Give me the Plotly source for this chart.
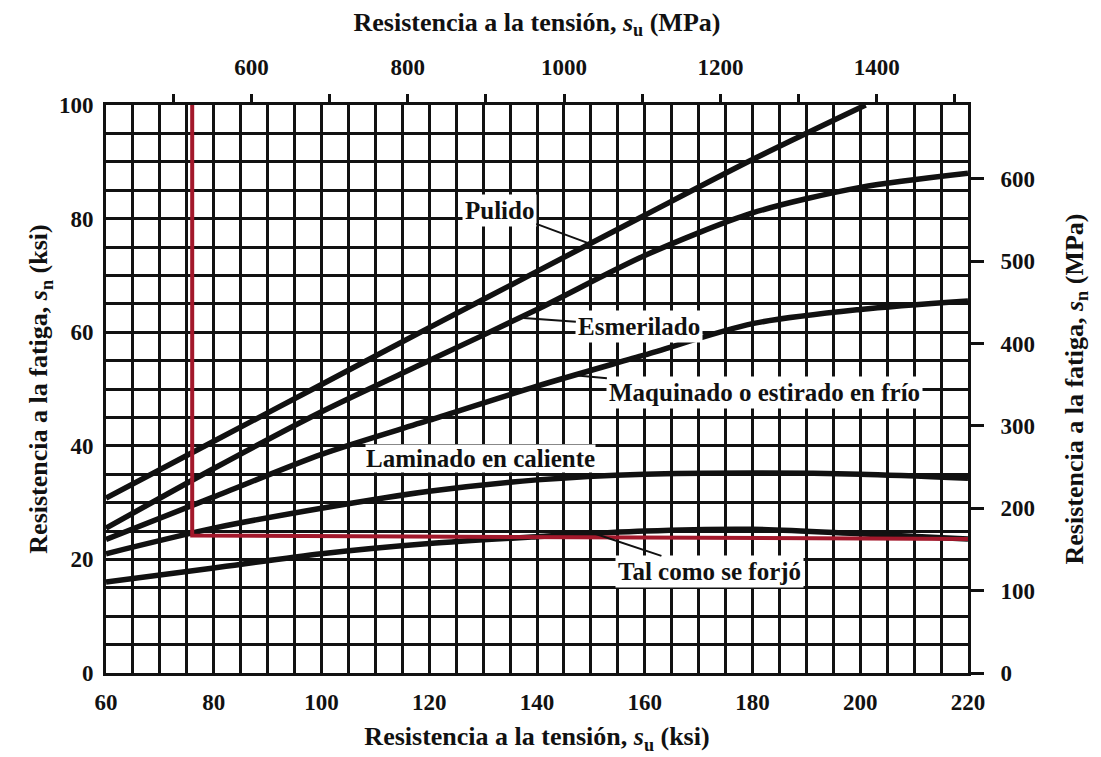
import plotly.graph_objects as go

# ---------------- data (ksi) ----------------
KSI_TO_MPA = 6.895
su_ksi = [60, 80, 100, 120, 140, 160, 180, 200, 220]

pulido_su = [60, 80, 100, 120, 140, 160, 180, 201]
pulido_sn = [30.8, 40.8, 50.8, 60.8, 70.7, 80.6, 90.4, 100]
esmerilado_sn = [25.5, 36, 46, 55, 64, 73.5, 81, 85.5, 88]
maquinado_sn = [23.5, 31, 38.5, 44.5, 50.5, 56, 61.5, 64, 65.5]
laminado_sn = [21, 25.5, 29, 32, 34, 35, 35.2, 35, 34.3]
forjado_sn = [16, 18.5, 21, 22.8, 24, 25, 25.3, 24.5, 23.6]

red_x = [76, 76, 220]
red_y = [100, 24.2, 23.6]

x_range = [60, 220]
y_range = [0, 100]
x_ticks = [60, 80, 100, 120, 140, 160, 180, 200, 220]
y_ticks = [0, 20, 40, 60, 80, 100]
mpa_top_ticks = [600, 800, 1000, 1200, 1400]
mpa_right_ticks = [0, 100, 200, 300, 400, 500, 600]

FONT = "Liberation Serif"
INK = "#111111"
RED = "#a3182b"

fig = go.Figure()

line_style = dict(color=INK, width=5.5, shape="spline", smoothing=0.8)
fig.add_trace(go.Scatter(x=pulido_su, y=pulido_sn, mode="lines", line=line_style, hoverinfo="skip"))
for ys in [esmerilado_sn, maquinado_sn, laminado_sn, forjado_sn]:
    fig.add_trace(go.Scatter(x=su_ksi, y=ys, mode="lines", line=line_style, hoverinfo="skip"))

fig.add_trace(go.Scatter(x=red_x, y=red_y, mode="lines", line=dict(color=RED, width=4), hoverinfo="skip"))

# invisible trace to carry the MPa axes
fig.add_trace(go.Scatter(
    x=[x_range[0] * KSI_TO_MPA, x_range[1] * KSI_TO_MPA],
    y=[y_range[0] * KSI_TO_MPA, y_range[1] * KSI_TO_MPA],
    xaxis="x2", yaxis="y2", mode="lines", line=dict(width=0),
    opacity=0, hoverinfo="skip"))

tickfont = dict(family=FONT, size=23, color=INK)
titlefont = dict(family=FONT, size=26, color=INK)
grid_minor = dict(showgrid=True, gridcolor=INK, gridwidth=3, ticks="")

fig.update_layout(
    width=1101, height=757,
    margin=dict(l=98, r=141, t=97, b=92),
    paper_bgcolor="white", plot_bgcolor="white",
    showlegend=False,
    xaxis=dict(
        range=x_range, tickmode="array", tickvals=x_ticks,
        ticktext=[f"<b>{v}</b>" for v in x_ticks],
        minor=dict(dtick=5, tick0=60, **grid_minor),
        showgrid=True, gridcolor=INK, gridwidth=3, zeroline=False,
        showline=True, linecolor=INK, linewidth=3, mirror=True,
        ticks="", tickfont=tickfont, ticklabelstandoff=6, automargin=False,
        title=dict(text="<b>Resistencia a la tensión, <i>s</i><sub>u</sub> (ksi)</b>",
                   font=titlefont, standoff=14),
    ),
    yaxis=dict(
        range=y_range, tickmode="array", tickvals=y_ticks,
        ticktext=[f"<b>{v}</b>" for v in y_ticks],
        minor=dict(dtick=5, tick0=0, **grid_minor),
        showgrid=True, gridcolor=INK, gridwidth=3, zeroline=False,
        showline=True, linecolor=INK, linewidth=3, mirror=True,
        ticks="", tickfont=tickfont, ticklabelstandoff=5, automargin=False,
        title=dict(text="<b>Resistencia a la fatiga, <i>s</i><sub>n</sub> (ksi)</b>",
                   font=titlefont, standoff=4),
    ),
    xaxis2=dict(
        overlaying="x", side="top", anchor="y2",
        range=[x_range[0] * KSI_TO_MPA, x_range[1] * KSI_TO_MPA],
        tickmode="array", tickvals=mpa_top_ticks,
        ticktext=[f"<b>{v}</b>" for v in mpa_top_ticks],
        minor=dict(dtick=100, tick0=500, ticks="outside", ticklen=10, tickwidth=2.5,
                   tickcolor=INK, showgrid=False),
        showgrid=False, zeroline=False, showline=False,
        ticks="outside", ticklen=10, tickwidth=2.5, tickcolor=INK,
        tickfont=tickfont, ticklabelstandoff=10, automargin=False,
        title=dict(text="<b>Resistencia a la tensión, <i>s</i><sub>u</sub> (MPa)</b>",
                   font=titlefont, standoff=20),
    ),
    yaxis2=dict(
        overlaying="y", side="right", anchor="x2",
        range=[y_range[0] * KSI_TO_MPA, y_range[1] * KSI_TO_MPA],
        tickmode="array", tickvals=mpa_right_ticks,
        ticktext=[f"<b>{v}</b>" for v in mpa_right_ticks],
        showgrid=False, zeroline=False, showline=False,
        ticks="outside", ticklen=15, tickwidth=2.5, tickcolor=INK,
        tickfont=tickfont, ticklabelstandoff=12, automargin=False,
        title=dict(text="<b>Resistencia a la fatiga, <i>s</i><sub>n</sub> (MPa)</b>",
                   font=titlefont, standoff=30),
    ),
)

lab_font = dict(family=FONT, size=25, color=INK)
labels = [
    # text, target x, target y, text x, text y
    ("Pulido", 150, 75.5, 133, 81.5),
    ("Esmerilado", 137.5, 62.5, 159, 61),
    ("Maquinado o estirado en frío", 147, 52.4, 182.3, 49.3),
    ("Tal como se forjó", 150.5, 24.6, 172, 17.8),
]
for text, tx, ty, lx, ly in labels:
    fig.add_annotation(
        x=tx, y=ty, ax=lx, ay=ly, axref="x", ayref="y", xref="x", yref="y",
        text=f"<b>{text}</b>", showarrow=True, arrowhead=0, arrowwidth=2,
        arrowcolor=INK, font=lab_font, bgcolor="white", borderpad=2,
    )
fig.add_annotation(
    x=129.5, y=37.8, xref="x", yref="y", text="<b>Laminado en caliente</b>",
    showarrow=False, font=lab_font, bgcolor="white", borderpad=0,
)

fig.write_html("out.html")
